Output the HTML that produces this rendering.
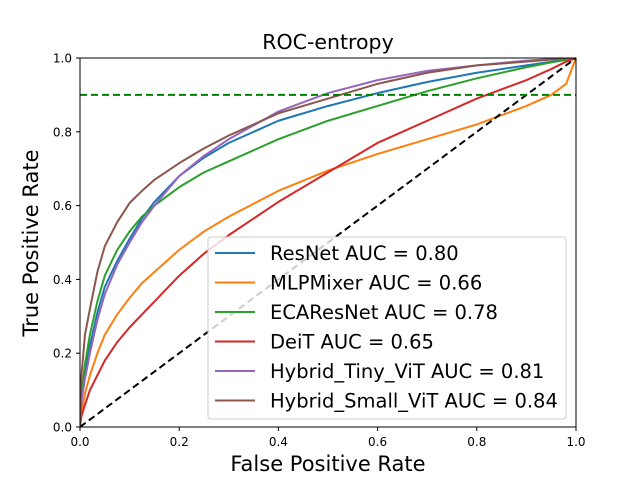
<!DOCTYPE html>
<html><head><meta charset="utf-8"><style>
body{margin:0;background:#fff;}
svg{display:block;font-family:"DejaVu Sans","Liberation Sans",sans-serif;}
</style></head><body>
<svg id="chart" width="640" height="480"></svg>
<script>
const fpr=[0,0.003,0.01,0.02,0.035,0.05,0.075,0.1,0.125,0.15,0.2,0.25,0.3,0.4,0.5,0.6,0.7,0.8,0.9,0.95,0.98,1];
const resnet=[0,0.08,0.15,0.22,0.31,0.38,0.45,0.51,0.565,0.61,0.68,0.73,0.77,0.83,0.87,0.905,0.935,0.96,0.98,0.99,0.996,1];
const mlpmixer=[0,0.04,0.09,0.14,0.2,0.25,0.305,0.35,0.39,0.42,0.48,0.53,0.57,0.64,0.695,0.74,0.78,0.82,0.87,0.9,0.93,1];
const ecaresnet=[0,0.09,0.17,0.25,0.34,0.41,0.48,0.53,0.57,0.6,0.65,0.69,0.72,0.78,0.83,0.87,0.91,0.945,0.975,0.988,0.995,1];
const deit=[0,0.03,0.06,0.1,0.14,0.18,0.23,0.27,0.305,0.34,0.41,0.47,0.52,0.61,0.69,0.77,0.83,0.89,0.94,0.97,0.99,1];
const tinyvit=[0,0.07,0.13,0.2,0.29,0.36,0.44,0.5,0.555,0.6,0.68,0.735,0.78,0.855,0.905,0.94,0.965,0.98,0.993,0.997,0.999,1];
const smallvit=[0,0.14,0.25,0.32,0.42,0.49,0.555,0.607,0.64,0.67,0.715,0.755,0.79,0.85,0.89,0.93,0.96,0.98,0.99,0.996,0.999,1];
const xTicks=[0,0.2,0.4,0.6,0.8,1.0];
const yTicks=[0,0.2,0.4,0.6,0.8,1.0];
const seriesNames=["ResNet AUC = 0.80","MLPMixer AUC = 0.66","ECAResNet AUC = 0.78","DeiT AUC = 0.65","Hybrid_Tiny_ViT AUC = 0.81","Hybrid_Small_ViT AUC = 0.84"];
const seriesData=[resnet,mlpmixer,ecaresnet,deit,tinyvit,smallvit];
const colors=["#1f77b4","#ff7f0e","#2ca02c","#d62728","#9467bd","#8c564b"];
const threshold=0.9;

const L=80,R=576,T=58,B=427;
const sx=v=>L+v*(R-L), sy=v=>B-v*(B-T);
const svg=document.getElementById('chart');
const NS="http://www.w3.org/2000/svg";
function mk(tag,attrs,parent){const e=document.createElementNS(NS,tag);for(const k in attrs)e.setAttribute(k,attrs[k]);(parent||svg).appendChild(e);return e;}

const clip=mk('clipPath',{id:'pc'});mk('rect',{x:L,y:T,width:R-L,height:B-T},clip);
const plot=mk('g',{'clip-path':'url(#pc)'});



seriesData.forEach((d,i)=>{
  const p=mk('polyline',{points:fpr.map((f,j)=>sx(f)+','+sy(d[j])).join(' '),fill:'none',stroke:colors[i],'stroke-width':2,'stroke-linejoin':'round'},plot);
  
  
});
const diag=mk('line',{x1:sx(0),y1:sy(0),x2:sx(1),y2:sy(1),stroke:'#000','stroke-width':2,'stroke-dasharray':'7,4'},plot);


const th=mk('line',{x1:sx(0),y1:sy(threshold),x2:sx(1),y2:sy(threshold),stroke:'green','stroke-width':2,'stroke-dasharray':'7,4'},plot);



const frame=mk('rect',{x:L,y:T,width:R-L,height:B-T,fill:'none',stroke:'#000','stroke-width':1});



xTicks.forEach(v=>{
  mk('line',{x1:sx(v),y1:B,x2:sx(v),y2:B+4,stroke:'#000'});
  const t=mk('text',{x:sx(v),y:B+19,'text-anchor':'middle','font-size':12});t.textContent=v.toFixed(1);
  
  
});
yTicks.forEach(v=>{
  mk('line',{x1:L-4,y1:sy(v),x2:L,y2:sy(v),stroke:'#000'});
  const t=mk('text',{x:L-8,y:sy(v)+4.5,'text-anchor':'end','font-size':12});t.textContent=v.toFixed(1);
  
  
});

const title=mk('text',{x:328,y:49,'text-anchor':'middle','font-size':20.5});title.textContent='ROC-entropy';


const xl=mk('text',{x:328,y:471,'text-anchor':'middle','font-size':21});xl.textContent='False Positive Rate';


const yl=mk('text',{x:38,y:243,'text-anchor':'middle','font-size':21,transform:'rotate(-90 38 243)'});yl.textContent='True Positive Rate';



const lg=mk('g',{});


mk('rect',{x:208,y:237,width:358,height:182,rx:3,fill:'#fff','fill-opacity':0.8,stroke:'#ccc'},lg);
seriesNames.forEach((n,i)=>{
  const y=253+i*29.5;
  const e=mk('g',{},lg);
  
  
  mk('line',{x1:215,y1:y,x2:255,y2:y,stroke:colors[i],'stroke-width':2},e);
  const t=mk('text',{x:270,y:y+7,'font-size':19.5},e);t.textContent=n;
});
</script>
</body></html>
